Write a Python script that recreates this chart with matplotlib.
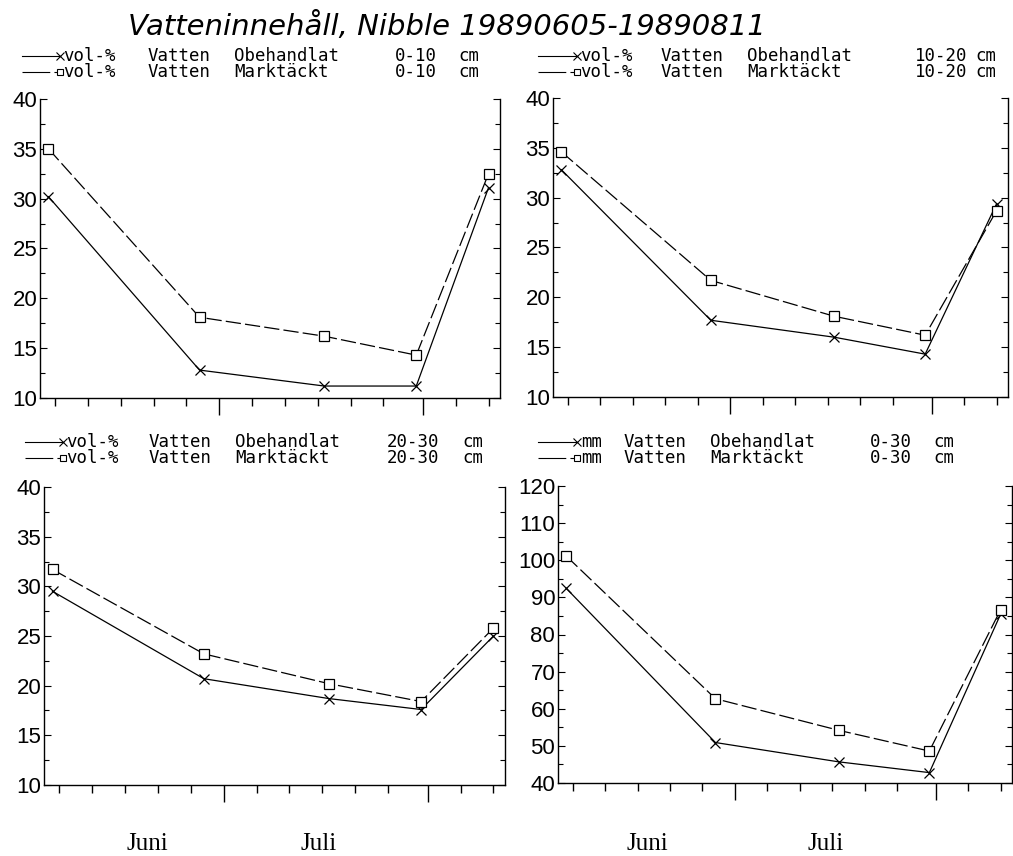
import datetime as dt
import matplotlib
matplotlib.use("Agg")
import matplotlib.pyplot as plt
import matplotlib.dates as mdates
from matplotlib.lines import Line2D
from matplotlib.ticker import MultipleLocator

# ---------------- data ----------------
dates = ["1989-06-05", "1989-06-28", "1989-07-17", "1989-07-31", "1989-08-11"]

obeh_0_10 = [30.2, 12.8, 11.2, 11.2, 31.1]
mark_0_10 = [35.0, 18.1, 16.2, 14.3, 32.5]
obeh_10_20 = [32.8, 17.7, 16.0, 14.3, 29.4]
mark_10_20 = [34.6, 21.7, 18.1, 16.2, 28.7]
obeh_20_30 = [29.5, 20.7, 18.7, 17.6, 25.0]
mark_20_30 = [31.7, 23.2, 20.2, 18.4, 25.8]
obeh_mm = [92.4, 50.9, 45.7, 42.8, 85.5]
mark_mm = [101.1, 62.7, 54.2, 48.6, 86.7]

units = ["vol-%", "vol-%", "vol-%", "mm"]
word_water = "Vatten"
word_obeh = "Obehandlat"
word_mark = "Marktäckt"
depths = ["0-10", "10-20", "20-30", "0-30"]
depth_unit = "cm"
title = "Vatteninnehåll, Nibble 19890605-19890811"
month_labels = ["Juni", "Juli"]

# ---------------- layout ----------------
W, H = 1013, 856
plt.rcParams["lines.scale_dashes"] = False
fig = plt.figure(figsize=(W / 100, H / 100), dpi=100)

def fx(px):
    return px / W

def fy(py):
    return 1 - py / H

# axes boxes in pixels (left, top, right, bottom)
boxes = [(40, 99, 500, 398), (553, 98, 1008, 397),
         (44, 487, 505, 785), (558, 486, 1012, 783)]
ylims = [(10, 40), (10, 40), (10, 40), (40, 120)]
ymaj = [5, 5, 5, 10]
series = [(obeh_0_10, mark_0_10), (obeh_10_20, mark_10_20),
          (obeh_20_30, mark_20_30), (obeh_mm, mark_mm)]

# legend geometry (pixels): handle start, handle end, x of unit, Vatten,
# Obehandlat/Marktäckt, depth, cm, and the two row y's
leg = [(22, 60, 63, 148, 234, 395, 458, 56, 72),
       (538, 577, 580, 661, 747, 915, 975, 56, 72),
       (25, 63, 66, 149, 235, 387, 462, 442, 458),
       (538, 577, 581, 624, 710, 870, 933, 442, 458)]

xd = [dt.datetime.strptime(d, "%Y-%m-%d") for d in dates]
xmin = dt.datetime(1989, 6, 3, 17)
xmax = dt.datetime(1989, 8, 12, 18)

dash = (11, 3)
lw = 0.9
tick_family = ["Liberation Sans", "DejaVu Sans"]
leg_font = dict(family=["DejaVu Sans Mono"], size=12.5)

for i, (l, t, r, b) in enumerate(boxes):
    ax = fig.add_axes([fx(l), fy(b), fx(r - l), (b - t) / H])
    o, m = series[i]
    ax.plot(xd, o, color="black", lw=lw, marker="x", ms=7.5, mew=0.9)
    ax.plot(xd, m, color="black", lw=lw, dashes=dash, marker="s", ms=6.5,
            mew=0.9, mfc="white")
    ax.set_xlim(xmin, xmax)
    ax.set_ylim(*ylims[i])
    ax.spines["top"].set_visible(False)
    for s in ["left", "right", "bottom"]:
        ax.spines[s].set_linewidth(1.0)
    ax.xaxis.set_major_locator(mdates.MonthLocator())
    ax.xaxis.set_minor_locator(mdates.DayLocator(bymonthday=[1, 6, 11, 16, 21, 26]))
    ax.xaxis.set_major_formatter(plt.NullFormatter())
    ax.xaxis.set_minor_formatter(plt.NullFormatter())
    ax.tick_params(axis="x", which="major", direction="out", length=12, width=1.0)
    ax.tick_params(axis="x", which="minor", direction="out", length=6, width=1.0)
    ax.yaxis.set_major_locator(MultipleLocator(ymaj[i]))
    ax.yaxis.set_minor_locator(MultipleLocator(ymaj[i] / 2))
    ax.tick_params(axis="y", which="both", direction="in", left=True, right=True,
                   width=0.8, pad=2)
    ax.tick_params(axis="y", which="major", length=5)
    ax.tick_params(axis="y", which="minor", length=3.5)
    for lab in ax.get_yticklabels():
        lab.set_fontfamily(tick_family)
        lab.set_fontsize(16)

    # legend
    hs, he, xu, xv, xo, xdp, xcm, y1, y2 = leg[i]
    fig.add_artist(Line2D([fx(hs), fx(he)], [fy(y1), fy(y1)], color="black",
                          lw=0.8, transform=fig.transFigure))
    fig.add_artist(Line2D([fx(he)], [fy(y1)], color="black", marker="x", ms=6,
                          mew=0.8, transform=fig.transFigure))
    fig.add_artist(Line2D([fx(hs), fx(he)], [fy(y2), fy(y2)], color="black",
                          lw=0.8, dashes=(20, 3), transform=fig.transFigure))
    fig.add_artist(Line2D([fx(he)], [fy(y2)], color="black", marker="s", ms=5,
                          mew=0.8, mfc="white", transform=fig.transFigure))
    for yy, word in [(y1, word_obeh), (y2, word_mark)]:
        fig.text(fx(xu), fy(yy), units[i], ha="left", va="center", **leg_font)
        fig.text(fx(xv), fy(yy), word_water, ha="left", va="center", **leg_font)
        fig.text(fx(xo), fy(yy), word, ha="left", va="center", **leg_font)
        fig.text(fx(xdp), fy(yy), depths[i], ha="left", va="center", **leg_font)
        fig.text(fx(xcm), fy(yy), depth_unit, ha="left", va="center", **leg_font)

# title
fig.text(fx(447), fy(26), title, ha="center", va="center", fontsize=21,
         style="italic", family=["DejaVu Sans"], fontweight="light")

# month labels
for xs in [(147, 319), (647, 826)]:
    for lab, xp in zip(month_labels, xs):
        fig.text(fx(xp), fy(844), lab, ha="center", va="center", fontsize=18,
                 family=["Liberation Serif", "DejaVu Serif"])

fig.savefig("out.png", dpi=100)
